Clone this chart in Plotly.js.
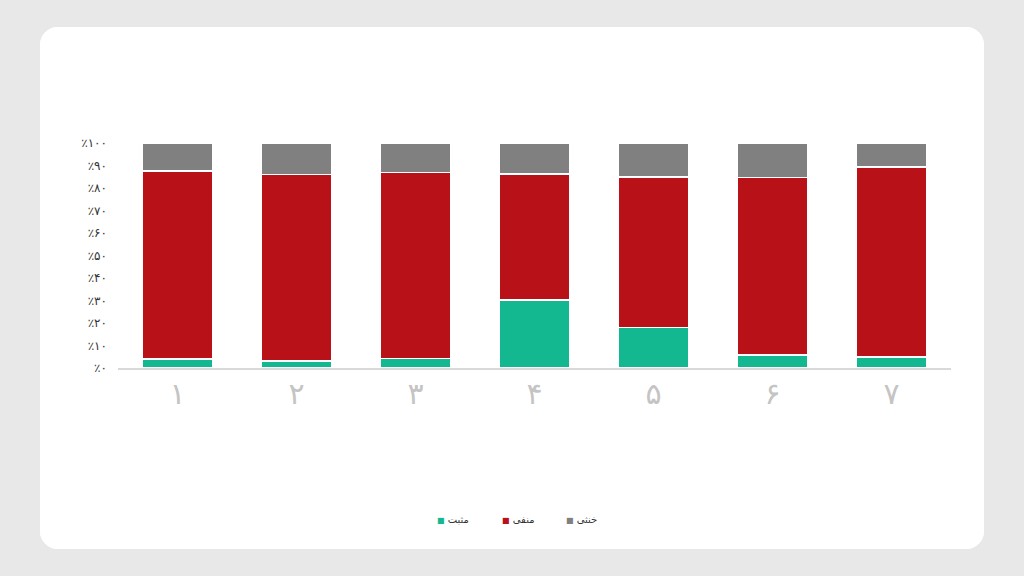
<!DOCTYPE html>
<html>
<head>
<meta charset="utf-8">
<script src="https://cdn.plot.ly/plotly-3.0.1.min.js"></script>
<style>
  html, body { margin:0; padding:0; width:1024px; height:576px; background:#e8e8e8; overflow:hidden; }
  #card { position:absolute; left:40px; top:27px; width:944px; height:522px; background:#fff; border-radius:18px; overflow:hidden; }
  #chart { width:944px; height:522px; }
</style>
</head>
<body>
<div id="card"><div id="chart"></div></div>
<script>
const categories = ["1","2","3","4","5","6","7"];
const categoryLabels = ["۱","۲","۳","۴","۵","۶","۷"];
const positive = [4.1, 3.2, 4.3, 30.2, 18.1, 5.8, 4.9];
const negative = [83.4, 82.8, 82.5, 56.1, 66.9, 78.8, 84.5];
const neutral  = [12.5, 14.0, 13.2, 13.7, 15.0, 15.4, 10.6];
const seriesNames = ["مثبت", "منفی", "خنثی"];
const seriesColors = ["#14B890", "#B81118", "#808080"];
const yTickVals = [0,10,20,30,40,50,60,70,80,90,100];
const yTickText = ["٪۰","٪۱۰","٪۲۰","٪۳۰","٪۴۰","٪۵۰","٪۶۰","٪۷۰","٪۸۰","٪۹۰","٪۱۰۰"];

const seriesValues = [positive, negative, neutral];
const traces = seriesValues.map((vals, i) => ({
  type: "bar",
  x: categories,
  y: vals,
  name: seriesNames[i],
  marker: { color: seriesColors[i], line: { color: "#ffffff", width: 1.5 } },
  hoverinfo: "skip"
}));

const legendX = [0.381, 0.459, 0.536];
const annotations = seriesNames.map((n, i) => ({
  xref: "paper", yref: "paper",
  x: legendX[i], y: -0.674,
  xanchor: "left", yanchor: "middle",
  showarrow: false,
  text: "<span style='color:" + seriesColors[i] + ";font-size:8px'>■</span> " + n,
  font: { family: "DejaVu Sans, Noto Sans, sans-serif", size: 10, color: "#333333" }
}));

const layout = {
  width: 944, height: 522,
  paper_bgcolor: "#ffffff",
  plot_bgcolor: "#ffffff",
  barmode: "stack",
  bargap: 0.4,
  showlegend: false,
  margin: { l: 77.5, r: 32.5, t: 116, b: 180.5 },
  xaxis: {
    type: "category",
    tickvals: categories,
    ticktext: categoryLabels,
    showline: true, linecolor: "#d9d9d9", linewidth: 1.5,
    showgrid: false, zeroline: false, ticks: "",
    ticklabelstandoff: -2,
    tickfont: { family: "DejaVu Sans, Noto Sans, sans-serif", size: 30, color: "#c4c4c4" }
  },
  yaxis: {
    range: [0, 100],
    tickvals: yTickVals,
    ticktext: yTickText,
    showgrid: false, zeroline: false, showline: false, ticks: "",
    ticklabelstandoff: 10,
    tickfont: { family: "DejaVu Sans, Noto Sans, sans-serif", size: 12, color: "#333333" }
  },
  annotations: annotations
};

Plotly.newPlot("chart", traces, layout, { displayModeBar: false, staticPlot: true });
</script>
</body>
</html>
